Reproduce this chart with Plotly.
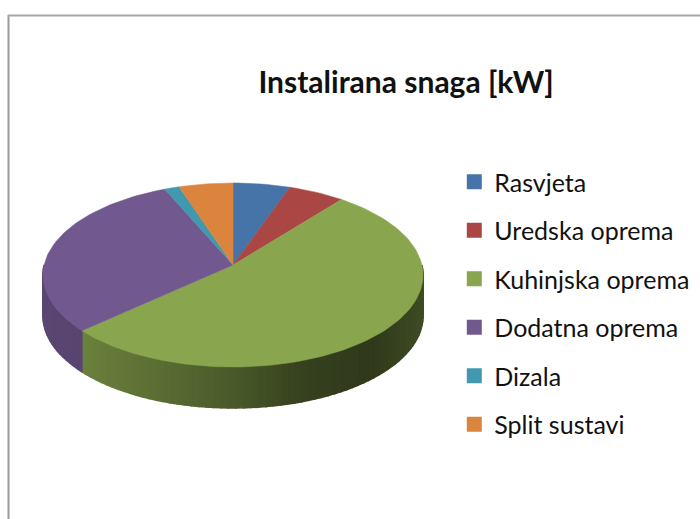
import math
import plotly.graph_objects as go

# Data (percent share)
categories = ["Rasvjeta", "Uredska oprema", "Kuhinjska oprema", "Dodatna oprema", "Dizala", "Split sustavi"]
values = [5.4, 5.3, 52.6, 30.2, 1.4, 5.1]
colors = ["#4674a8", "#aa4644", "#89a54e", "#71588f", "#4198af", "#db843d"]
title_text = "Instalirana snaga [kW]"

# Projection of the tilted disc onto the page
CX, CY = 233.0, 265.0
A, B, K = 188.9, 90.9, -0.1087
DEPTH = 41.0
shade_x = [43, 85, 150, 233, 300, 370, 423]
shade_m = [0.80, 0.78, 0.68, 0.54, 0.40, 0.35, 0.46]


def rim(angle_deg):
    t = math.radians(angle_deg)
    u, v = math.sin(t), -math.cos(t)
    w = 1 + K * v
    return CX + A * u / w, CY + B * v / w


def shade(x):
    if x <= shade_x[0]:
        return shade_m[0]
    for i in range(len(shade_x) - 1):
        if x <= shade_x[i + 1]:
            f = (x - shade_x[i]) / (shade_x[i + 1] - shade_x[i])
            return shade_m[i] + f * (shade_m[i + 1] - shade_m[i])
    return shade_m[-1]


def mix(hex_color, m):
    r, g, b = (int(hex_color[i:i + 2], 16) for i in (1, 3, 5))
    return f"rgb({int(r * m)},{int(g * m)},{int(b * m)})"


total = sum(values)
bounds = [0.0]
for val in values:
    bounds.append(bounds[-1] + val / total * 360)

fig = go.Figure()

# Side wall: narrow strips along the front half of the rim
for i, col in enumerate(colors):
    lo, hi = max(bounds[i], 90), min(bounds[i + 1], 270)
    if hi <= lo:
        continue
    n = max(1, int((hi - lo) / 2))
    for j in range(n):
        a0, a1 = lo + (hi - lo) * j / n, lo + (hi - lo) * (j + 1) / n
        x0, y0 = rim(a0)
        x1, y1 = rim(a1)
        c = mix(col, shade((x0 + x1) / 2))
        fig.add_trace(go.Scatter(
            x=[x0, x1, x1, x0, x0], y=[y0, y1, y1 + DEPTH, y0 + DEPTH, y0],
            mode="lines", fill="toself", fillcolor=c, line=dict(color=c, width=1.5),
            hoverinfo="skip", showlegend=False))

# Top face
for i, col in enumerate(colors):
    steps = max(2, int((bounds[i + 1] - bounds[i]) / 1.5))
    pts = [rim(bounds[i] + (bounds[i + 1] - bounds[i]) * s / steps) for s in range(steps + 1)]
    xs = [CX] + [p[0] for p in pts] + [CX]
    ys = [CY] + [p[1] for p in pts] + [CY]
    fig.add_trace(go.Scatter(
        x=xs, y=ys, mode="lines", fill="toself", fillcolor=col,
        line=dict(color=col, width=0.5), name=categories[i],
        hovertemplate=f"{categories[i]}: {values[i]}<extra></extra>", showlegend=False))

# Legend entries
for name, col in zip(categories, colors):
    fig.add_trace(go.Scatter(
        x=[None], y=[None], mode="markers", name=name, legendgroup=name,
        marker=dict(symbol="square", size=15, color=col)))

fig.update_layout(
    width=700, height=519, margin=dict(l=0, r=0, t=0, b=0),
    paper_bgcolor="white", plot_bgcolor="white",
    xaxis=dict(range=[0, 700], visible=False, fixedrange=True),
    yaxis=dict(range=[519, 0], visible=False, fixedrange=True),
    font=dict(family="Lato", color="#111111"),
    title=dict(text=f"<b>{title_text}</b>", x=406 / 700, y=1 - 82 / 519, xanchor="center", yanchor="middle",
               font=dict(family="Lato", size=30, color="#111111")),
    legend=dict(x=0.649, y=1 - 159 / 519, xanchor="left", yanchor="top", tracegroupgap=13,
                font=dict(family="Lato", size=25, color="#111111"), bgcolor="rgba(0,0,0,0)"),
    shapes=[
        dict(type="line", x0=8.5, x1=8.5, y0=15, y1=519, line=dict(color="#9a9a9a", width=2), layer="below"),
        dict(type="line", x0=8, x1=700, y0=15.5, y1=15.5, line=dict(color="#a8a8a8", width=2), layer="below"),
    ],
)

fig.write_html("out.html", config={"displayModeBar": False}, post_script="document.body.style.margin='0';")
